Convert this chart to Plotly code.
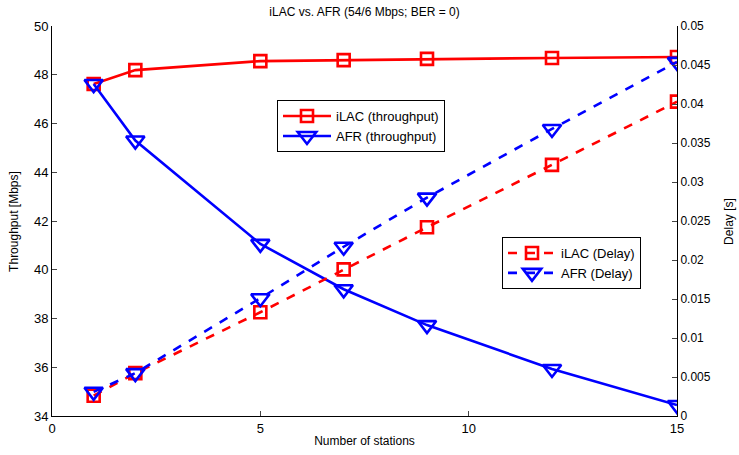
import plotly.graph_objects as go

stations = [1, 2, 5, 7, 9, 12, 15]
ilac_thr = [47.62, 48.19, 48.56, 48.6, 48.65, 48.69, 48.73]
afr_thr = [47.62, 45.3, 41.06, 39.2, 37.73, 35.93, 34.45]
ilac_delay = [0.0026, 0.0055, 0.0133, 0.0188, 0.0242, 0.0322, 0.0403]
afr_delay = [0.0031, 0.0055, 0.0151, 0.0217, 0.028, 0.0368, 0.0454]

RED = "#ff0000"
BLUE = "#0000ff"
FONT = "Liberation Sans, Arial, sans-serif"
LW = 2.6

sq = dict(symbol="square-open", size=12)
tri = dict(symbol="triangle-down-open", size=16)

fig = go.Figure()
fig.add_trace(go.Scatter(x=stations, y=ilac_delay, name="iLAC (Delay)", yaxis="y2",
                         mode="lines+markers", legend="legend2",
                         line=dict(color=RED, width=LW, dash="dash"),
                         marker=dict(**sq, color=RED, line=dict(width=LW, color=RED))))
fig.add_trace(go.Scatter(x=stations, y=afr_delay, name="AFR (Delay)", yaxis="y2",
                         mode="lines+markers", legend="legend2",
                         line=dict(color=BLUE, width=LW, dash="dash"),
                         marker=dict(**tri, color=BLUE, line=dict(width=LW, color=BLUE))))
fig.add_trace(go.Scatter(x=stations, y=ilac_thr, name="iLAC (throughput)",
                         mode="lines+markers", legend="legend",
                         line=dict(color=RED, width=LW),
                         marker=dict(**sq, color=RED, line=dict(width=LW, color=RED))))
fig.add_trace(go.Scatter(x=stations, y=afr_thr, name="AFR (throughput)",
                         mode="lines+markers", legend="legend",
                         line=dict(color=BLUE, width=LW),
                         marker=dict(**tri, color=BLUE, line=dict(width=LW, color=BLUE))))

fig.update_layout(
    width=739, height=455,
    margin=dict(l=52, r=62, t=26, b=39),
    paper_bgcolor="white", plot_bgcolor="white",
    font=dict(family=FONT, size=12, color="black"),
    title=dict(text="iLAC vs. AFR (54/6 Mbps; BER = 0)", x=0.5, xref="paper", xanchor="center",
               y=0.975, yanchor="middle", font=dict(size=12)),
    xaxis=dict(range=[0, 15], tickvals=[0, 5, 10, 15], ticks="inside", ticklen=5,
               showline=True, linecolor="black", linewidth=1, showgrid=False, zeroline=False,
               automargin=False, title=dict(text="Number of stations", standoff=2, font=dict(size=12)),
               tickfont=dict(size=13)),
    yaxis=dict(range=[34, 50], dtick=2, ticks="inside", ticklen=5, automargin=False,
               showline=True, linecolor="black", linewidth=1, showgrid=False, zeroline=False,
               tickfont=dict(size=13)),
    yaxis2=dict(range=[0, 0.05], dtick=0.005, ticks="inside", ticklen=5, overlaying="y", side="right",
                automargin=False, showline=True, linecolor="black", linewidth=1, showgrid=False, zeroline=False,
                tickfont=dict(size=12)),
    annotations=[
        dict(text="Throughput [Mbps]", textangle=-90, xref="paper", yref="paper",
             x=-0.061, y=0.5, xanchor="center", yanchor="middle", showarrow=False, font=dict(size=12)),
        dict(text="Delay [s]", textangle=-90, xref="paper", yref="paper",
             x=1.083, y=0.5, xanchor="center", yanchor="middle", showarrow=False, font=dict(size=12)),
    ],
    legend=dict(x=0.36, y=0.81, xanchor="left", yanchor="top", bgcolor="white", itemwidth=48,
                bordercolor="black", borderwidth=1, font=dict(size=13), tracegroupgap=0),
    legend2=dict(x=0.72, y=0.459, xanchor="left", yanchor="top", bgcolor="white", itemwidth=48,
                 bordercolor="black", borderwidth=1, font=dict(size=13), tracegroupgap=0),
    showlegend=True,
)

fig.write_html("out.html", config={"displayModeBar": False},
               post_script="document.body.style.margin='0';document.body.style.padding='0';")
